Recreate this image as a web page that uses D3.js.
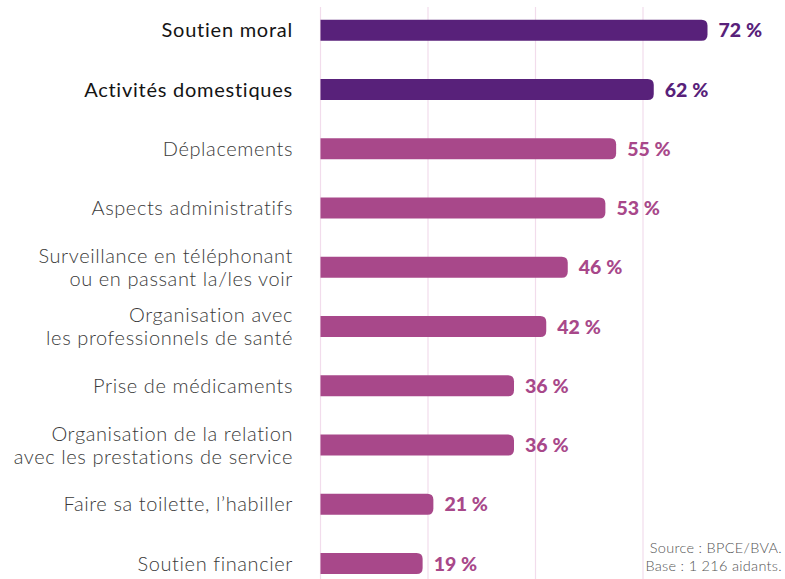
<!DOCTYPE html>
<html>
<head>
<meta charset="utf-8">
<script src="https://cdn.jsdelivr.net/npm/d3@7"></script>
<style>
  body { margin: 0; background: #fff; }
  svg { display: block; }
  text { font-variant-ligatures: none; }
  .label { font-family: Lato, sans-serif; font-size: 20px; letter-spacing: 0.6px; fill: #3a3a3a; font-weight: 300; }
  .label.main { fill: #141414; font-weight: 400; letter-spacing: 0.75px; }
  .value { font-family: Lato, sans-serif; font-size: 19.5px; font-weight: 900; }
  .source { font-family: Lato, sans-serif; font-size: 14.5px; letter-spacing: 0.3px; fill: #555; font-weight: 300; }
</style>
</head>
<body>
<svg id="chart" width="785" height="579"></svg>
<script>
const categories = [
    ['Soutien moral'],
    ['Activités domestiques'],
    ['Déplacements'],
    ['Aspects administratifs'],
    ['Surveillance en téléphonant', 'ou en passant la/les voir'],
    ['Organisation avec', 'les professionnels de santé'],
    ['Prise de médicaments'],
    ['Organisation de la relation', 'avec les prestations de service'],
    ['Faire sa toilette, l’habiller'],
    ['Soutien financier']
]
const values = [72, 62, 55, 53, 46, 42, 36, 36, 21, 19]
const highlighted = [true, true, false, false, false, false, false, false, false, false]
const gridTicks = [0, 20, 40, 60]
const sourceLines = ['Source : BPCE/BVA.', 'Base : 1 216 aidants.']

const darkColor = '#58217a'
const lightColor = '#a8488a'
const gridColor = '#f2dcec'
const barHeight = 21
const radius = 6

const svg = d3.select('#chart')

const x = d3.scaleLinear()
    .domain([0, 100])
    .range([320.5, 858])

const y = d3.scalePoint()
    .domain(d3.range(values.length))
    .range([30.3, 563.5])

// vertical grid
svg.append('g')
    .attr('class', 'g-grid')
    .selectAll('line')
    .data(gridTicks)
    .enter()
    .append('line')
    .attr('x1', d => x(d))
    .attr('x2', d => x(d))
    .attr('y1', 7)
    .attr('y2', 579)
    .attr('stroke', gridColor)
    .attr('stroke-width', 1.2)

function barPath (d, i) {
    const x0 = x(0)
    const x1 = x(d)
    const y0 = y(i) - barHeight / 2
    const y1 = y(i) + barHeight / 2
    return `M${x0},${y0} H${x1 - radius} Q${x1},${y0} ${x1},${y0 + radius}` +
        ` V${y1 - radius} Q${x1},${y1} ${x1 - radius},${y1} H${x0} Z`
}

const gBar = svg.append('g').attr('class', 'g-bars')
gBar.selectAll('path')
    .data(values)
    .enter()
    .append('path')
    .attr('d', barPath)
    .attr('fill', (d, i) => highlighted[i] ? darkColor : lightColor)

gBar.selectAll('text')
    .data(values)
    .enter()
    .append('text')
    .attr('class', 'value')
    .attr('x', d => x(d) + 11)
    .attr('y', (d, i) => y(i))
    .attr('dy', '0.36em')
    .attr('fill', (d, i) => highlighted[i] ? darkColor : lightColor)
    .text(d => d + '\u202f%')

// category labels, one or two lines
const lineHeight = 23
const gLabel = svg.append('g').attr('class', 'g-labels')
gLabel.selectAll('text')
    .data(categories)
    .enter()
    .append('text')
    .attr('class', (d, i) => highlighted[i] ? 'label main' : 'label')
    .attr('text-anchor', 'end')
    .each(function (lines, i) {
        const t = d3.select(this)
        const top = y(i) - (lines.length - 1) * lineHeight / 2
        lines.forEach((l, k) => {
            t.append('tspan')
                .attr('x', 293)
                .attr('y', top + k * lineHeight)
                .attr('dy', '0.35em')
                .text(l)
        })
    })

svg.append('g')
    .selectAll('text')
    .data(sourceLines)
    .enter()
    .append('text')
    .attr('class', 'source')
    .attr('text-anchor', 'end')
    .attr('x', 782)
    .attr('y', (d, i) => 553 + i * 18)
    .text(d => d)
</script>
</body>
</html>
